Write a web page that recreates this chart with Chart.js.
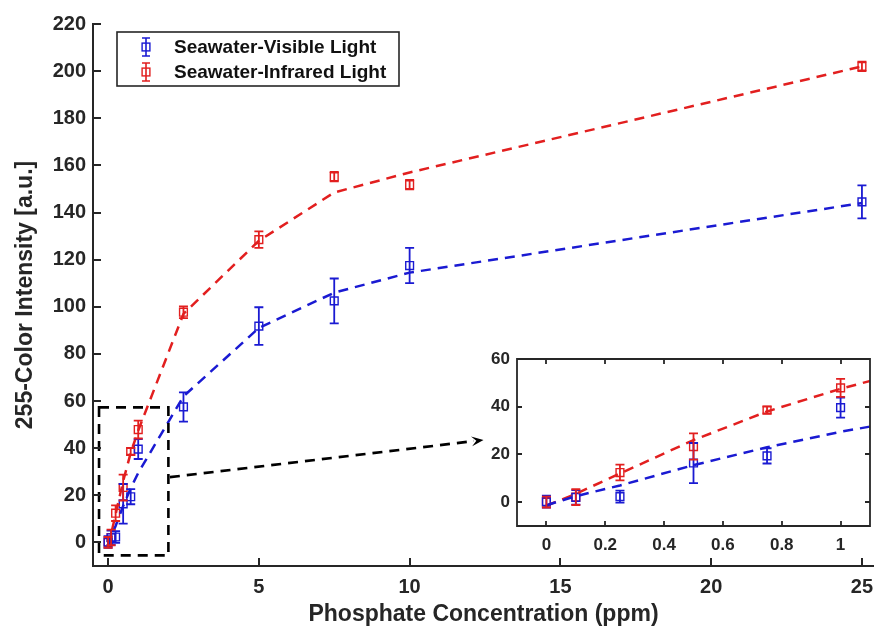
<!DOCTYPE html>
<html><head><meta charset="utf-8">
<script src="https://cdn.jsdelivr.net/npm/chart.js@4.4.1/dist/chart.umd.min.js"></script>
<style>
html,body{margin:0;padding:0;background:#fff;}
#wrap{position:relative;width:874px;height:628px;overflow:hidden;}
#main{position:absolute;left:0;top:0;}
#inset{position:absolute;left:470px;top:345px;}
</style></head><body>
<div id="wrap"><canvas id="main" width="874" height="628"></canvas><canvas id="inset" width="404" height="215"></canvas></div>
<script>
// ---- data ----
const concentration = [0, 0.1, 0.25, 0.5, 0.75, 1, 2.5, 5, 7.5, 10, 25];
const visibleMean   = [0.2, 2, 2.3, 16.4, 19.4, 39.6, 57.5, 91.8, 102.5, 117.5, 144.5];
const visibleErr    = [2.5, 3, 2.5, 8.4, 3.2, 4.2, 6.2, 8, 9.5, 7.5, 7];
const infraredMean  = [0, 2.1, 12.4, 23.3, 38.6, 47.9, 97.7, 128.5, 155.2, 151.8, 202];
const infraredErr   = [2.3, 3.3, 3.3, 5.5, 1.4, 3.8, 2.5, 3.5, 2, 2, 2];
const visibleFit    = [-1.3, 2.5, 7, 15.5, 23, 29.5, 62, 91, 106, 114.5, 144];
const infraredFit   = [-1.5, 3.5, 12, 26, 38, 47.5, 97, 128, 148.5, 157, 202];
const seriesLabels  = ['Seawater-Visible Light', 'Seawater-Infrared Light'];

const mainXTicks  = [0, 5, 10, 15, 20, 25];
const mainYTicks  = [0, 20, 40, 60, 80, 100, 120, 140, 160, 180, 200, 220];
const insetXTicks = [0, 0.2, 0.4, 0.6, 0.8, 1];
const insetYTicks = [0, 20, 40, 60];

// zoom marker (data units of the main axes)
const zoomBoxX  = [-0.3, 2.0];
const zoomBoxY  = [-5.5, 57.3];
const arrowFrom = [2.05, 27.7];
const arrowTo   = [12.45, 43.5];

// ---- styles ----
const BLUE = '#1a1ad2', RED = '#e21f1f', INK = '#262626';
const FONT = "'Liberation Sans', Arial, Helvetica, sans-serif";

function pts(xs, ys) { return xs.map((x, i) => ({x: x, y: ys[i]})); }

function makeDatasets() {
  return [
    {label: 'fitVisible', data: pts(concentration, visibleFit), borderColor: BLUE, borderDash: [10, 7],
     borderWidth: 2.5, pointRadius: 0, showLine: true, fill: false, clip: 0},
    {label: 'fitInfrared', data: pts(concentration, infraredFit), borderColor: RED, borderDash: [10, 7],
     borderWidth: 2.5, pointRadius: 0, showLine: true, fill: false, clip: 0},
    {label: seriesLabels[0], data: pts(concentration, visibleMean), errors: visibleErr, borderColor: BLUE,
     backgroundColor: 'rgba(0,0,0,0)', pointStyle: 'rect', pointRadius: 5.5, pointBorderWidth: 1.4, showLine: false, legend: true},
    {label: seriesLabels[1], data: pts(concentration, infraredMean), errors: infraredErr, borderColor: RED,
     backgroundColor: 'rgba(0,0,0,0)', pointStyle: 'rect', pointRadius: 5.5, pointBorderWidth: 1.4, showLine: false, legend: true}
  ];
}

const errorBarPlugin = {
  id: 'errorBars',
  afterDatasetsDraw(chart, args, opts) {
    const {ctx, chartArea: a, scales: {x, y}} = chart;
    ctx.save();
    ctx.beginPath(); ctx.rect(a.left, a.top, a.right - a.left, a.bottom - a.top); ctx.clip();
    chart.data.datasets.forEach(ds => {
      if (!ds.errors) return;
      ctx.strokeStyle = ds.borderColor; ctx.lineWidth = opts.width;
      ds.data.forEach((p, i) => {
        const px = x.getPixelForValue(p.x), e = ds.errors[i];
        const y1 = y.getPixelForValue(p.y - e), y2 = y.getPixelForValue(p.y + e);
        const c = opts.cap;
        ctx.beginPath();
        ctx.moveTo(px, y1); ctx.lineTo(px, y2);
        ctx.moveTo(px - c, y1); ctx.lineTo(px + c, y1);
        ctx.moveTo(px - c, y2); ctx.lineTo(px + c, y2);
        ctx.stroke();
      });
    });
    ctx.restore();
  }
};

const frameTicksPlugin = {
  id: 'frameTicks',
  afterDraw(chart, args, opts) {
    const {ctx, chartArea: a, scales: {x, y}} = chart;
    const L = opts.len;
    ctx.save();
    ctx.strokeStyle = INK; ctx.lineWidth = opts.lineWidth; ctx.lineCap = 'square';
    ctx.beginPath();
    if (opts.box) {
      ctx.rect(a.left, a.top, a.right - a.left, a.bottom - a.top);
    } else {
      ctx.moveTo(a.left, a.top); ctx.lineTo(a.left, a.bottom); ctx.lineTo(a.right + 2, a.bottom);
    }
    ctx.stroke();
    ctx.lineCap = 'butt';
    ctx.beginPath();
    opts.xTicks.forEach(v => {
      const px = Math.round(x.getPixelForValue(v));
      ctx.moveTo(px, a.bottom); ctx.lineTo(px, a.bottom - L);
      if (opts.box) { ctx.moveTo(px, a.top); ctx.lineTo(px, a.top + L); }
    });
    opts.yTicks.forEach(v => {
      const py = Math.round(y.getPixelForValue(v));
      ctx.moveTo(a.left, py); ctx.lineTo(a.left + L, py);
      if (opts.box) { ctx.moveTo(a.right, py); ctx.lineTo(a.right - L, py); }
    });
    ctx.stroke();
    ctx.restore();
  }
};

const zoomMarkPlugin = {
  id: 'zoomMark',
  afterDatasetsDraw(chart) {
    const {ctx, scales: {x, y}} = chart;
    const x0 = x.getPixelForValue(zoomBoxX[0]), x1 = x.getPixelForValue(zoomBoxX[1]);
    const y0 = y.getPixelForValue(zoomBoxY[0]), y1 = y.getPixelForValue(zoomBoxY[1]);
    ctx.save();
    ctx.strokeStyle = '#000'; ctx.lineWidth = 2.6; ctx.setLineDash([10, 7]);
    ctx.strokeRect(x0, y1, x1 - x0, y0 - y1);
    const ax = x.getPixelForValue(arrowFrom[0]), ay = y.getPixelForValue(arrowFrom[1]);
    const bx = x.getPixelForValue(arrowTo[0]), by = y.getPixelForValue(arrowTo[1]);
    const ang = Math.atan2(by - ay, bx - ax);
    const hl = 12, hw = 5;
    const ex = bx - Math.cos(ang) * hl * 0.8, ey = by - Math.sin(ang) * hl * 0.8;
    ctx.beginPath(); ctx.moveTo(ax, ay); ctx.lineTo(ex, ey); ctx.stroke();
    ctx.setLineDash([]);
    ctx.fillStyle = '#000';
    ctx.beginPath();
    ctx.moveTo(bx, by);
    ctx.lineTo(bx - Math.cos(ang) * hl + Math.sin(ang) * hw, by - Math.sin(ang) * hl - Math.cos(ang) * hw);
    ctx.lineTo(bx - Math.cos(ang) * hl * 0.6, by - Math.sin(ang) * hl * 0.6);
    ctx.lineTo(bx - Math.cos(ang) * hl - Math.sin(ang) * hw, by - Math.sin(ang) * hl + Math.cos(ang) * hw);
    ctx.closePath(); ctx.fill();
    ctx.restore();
  }
};

const legendPlugin = {
  id: 'boxLegend',
  afterDraw(chart) {
    const {ctx, chartArea: a} = chart;
    const left = a.left + 24, top = a.top + 8, w = 282, h = 54;
    ctx.save();
    ctx.fillStyle = '#fff'; ctx.fillRect(left, top, w, h);
    ctx.strokeStyle = INK; ctx.lineWidth = 1.6; ctx.strokeRect(left, top, w, h);
    const items = chart.data.datasets.filter(d => d.legend);
    items.forEach((ds, i) => {
      const cy = top + 15 + i * 25, cx = left + 29;
      ctx.strokeStyle = ds.borderColor; ctx.lineWidth = 1.6;
      ctx.beginPath();
      ctx.moveTo(cx, cy - 9); ctx.lineTo(cx, cy + 9);
      ctx.moveTo(cx - 4, cy - 9); ctx.lineTo(cx + 4, cy - 9);
      ctx.moveTo(cx - 4, cy + 9); ctx.lineTo(cx + 4, cy + 9);
      ctx.stroke();
      ctx.lineWidth = 1.4; ctx.strokeRect(cx - 3.9, cy - 3.9, 7.8, 7.8);
      ctx.fillStyle = '#111'; ctx.font = 'bold 19px ' + FONT; ctx.textBaseline = 'middle'; ctx.textAlign = 'left';
      ctx.fillText(ds.label, left + 57, cy + 1);
    });
    ctx.restore();
  }
};

function fixedTicks(arr) { return s => { s.ticks = arr.map(v => ({value: v})); }; }
const plainLabel = v => String(Math.round(v * 100) / 100);

new Chart(document.getElementById('main'), {
  type: 'scatter',
  data: {datasets: makeDatasets()},
  options: {
    responsive: false, animation: false, devicePixelRatio: 1,
    layout: {autoPadding: false, padding: {left: 0, right: 0, top: 24, bottom: 0}},
    plugins: {
      legend: {display: false}, tooltip: {enabled: false},
      errorBars: {cap: 4.5, width: 1.8},
      frameTicks: {box: false, len: 8, lineWidth: 2, xTicks: mainXTicks, yTicks: mainYTicks}
    },
    scales: {
      x: {
        type: 'linear', min: -0.5, max: 25.4,
        grid: {display: false, drawTicks: false}, border: {display: false},
        afterBuildTicks: fixedTicks(mainXTicks),
        afterFit: s => { s.height = 62; s.paddingRight = 0; s.paddingLeft = 0; },
        ticks: {color: INK, font: {family: FONT, size: 20, weight: 'bold'}, padding: 9, maxRotation: 0, autoSkip: false, callback: plainLabel},
        title: {display: true, text: 'Phosphate Concentration (ppm)', color: INK,
                font: {family: FONT, size: 23, weight: 'bold'}, padding: {top: 0, bottom: 0}}
      },
      y: {
        type: 'linear', min: -10, max: 220,
        grid: {display: false, drawTicks: false}, border: {display: false},
        afterBuildTicks: fixedTicks(mainYTicks),
        afterFit: s => { s.width = 93; s.paddingTop = 0; s.paddingBottom = 0; },
        ticks: {color: INK, font: {family: FONT, size: 20, weight: 'bold'}, padding: 7, autoSkip: false, callback: plainLabel},
        title: {display: true, text: '255-Color Intensity [a.u.]', color: INK,
                font: {family: FONT, size: 23, weight: 'bold'}, padding: {top: 12, bottom: 0}}
      }
    }
  },
  plugins: [errorBarPlugin, zoomMarkPlugin, frameTicksPlugin, legendPlugin]
});

new Chart(document.getElementById('inset'), {
  type: 'scatter',
  data: {datasets: makeDatasets()},
  options: {
    responsive: false, animation: false, devicePixelRatio: 1,
    layout: {autoPadding: false, padding: {left: 0, right: 4, top: 14, bottom: 0}},
    plugins: {
      legend: {display: false}, tooltip: {enabled: false},
      errorBars: {cap: 4.5, width: 1.8},
      frameTicks: {box: true, len: 5, lineWidth: 1.8, xTicks: insetXTicks, yTicks: insetYTicks}
    },
    scales: {
      x: {
        type: 'linear', min: -0.1, max: 1.1,
        grid: {display: false, drawTicks: false}, border: {display: false},
        afterBuildTicks: fixedTicks(insetXTicks),
        afterFit: s => { s.height = 34; s.paddingRight = 0; s.paddingLeft = 0; },
        ticks: {color: INK, font: {family: FONT, size: 17, weight: 'bold'}, padding: 9, maxRotation: 0, autoSkip: false, callback: plainLabel}
      },
      y: {
        type: 'linear', min: -10, max: 60,
        grid: {display: false, drawTicks: false}, border: {display: false},
        afterBuildTicks: fixedTicks(insetYTicks),
        afterFit: s => { s.width = 47; s.paddingTop = 0; s.paddingBottom = 0; },
        ticks: {color: INK, font: {family: FONT, size: 17, weight: 'bold'}, padding: 7, autoSkip: false, callback: plainLabel}
      }
    }
  },
  plugins: [errorBarPlugin, frameTicksPlugin]
});
</script>
</body></html>
